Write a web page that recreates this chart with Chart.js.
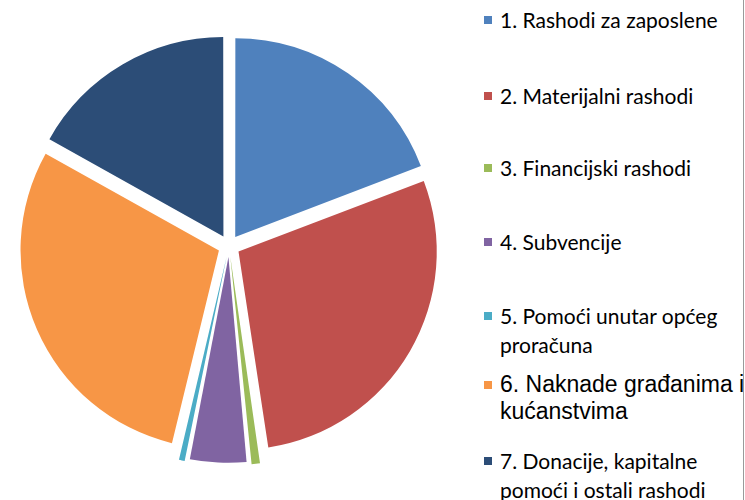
<!DOCTYPE html>
<html>
<head>
<meta charset="utf-8">
<script src="https://cdn.jsdelivr.net/npm/chart.js@4"></script>
<style>
  html, body { margin: 0; padding: 0; background: #fff; }
  #wrap { position: relative; width: 745px; height: 500px; overflow: hidden; }
  #wrap:after { content: ""; position: absolute; right: 1px; top: 0; width: 1px; height: 500px; background: #9a9a9a; }
  #pieBox { position: absolute; left: 0; top: 0; width: 460px; height: 500px; }
  .item { position: absolute; left: 484px; width: 259px; height: 70px; overflow: hidden; white-space: nowrap; color: #000; }
  .item .box { position: absolute; left: 0; width: 8px; height: 8px; }
  .item .txt { position: absolute; left: 16px; top: 0; font-family: Lato, sans-serif; font-size: 21px; line-height: 29px; }
</style>
</head>
<body>
<div id="wrap">
  <div id="pieBox"><canvas id="pie"></canvas></div>
  <div id="legend"></div>
</div>
<script>
const labels = [
  "1. Rashodi za zaposlene",
  "2. Materijalni rashodi",
  "3. Financijski rashodi",
  "4. Subvencije",
  "5. Pomoći unutar općeg proračuna",
  "6. Naknade građanima i kućanstvima",
  "7. Donacije, kapitalne pomoći i ostali rashodi"
];
const shares = [19.2, 28.4, 0.9, 4.6, 0.7, 29.3, 16.9];
const colors = ["#4F81BD", "#C0504D", "#9BBB59", "#8064A2", "#4BACC6", "#F79646", "#2C4D77"];

// legend layout (line breaks and vertical positions)
const breakAfter = [null, null, null, null, "općeg", "i", "kapitalne"];
const legendTop = [5, 81, 153, 227, 301, 370, 446];

const legend = document.getElementById("legend");
labels.forEach(function (lab, i) {
  var item = document.createElement("div");
  item.className = "item";
  item.style.top = legendTop[i] + "px";
  var box = document.createElement("div");
  box.className = "box";
  box.style.background = colors[i];
  box.style.top = "11px";
  var txt = document.createElement("div");
  txt.className = "txt";
  var text = lab;
  if (breakAfter[i]) {
    var k = lab.indexOf(" " + breakAfter[i] + " ") + breakAfter[i].length + 1;
    text = lab.slice(0, k) + "<br>" + lab.slice(k + 1);
  }
  txt.innerHTML = text;
  if (i == 5) {
    txt.style.fontFamily = "'Liberation Sans', Arial, sans-serif";
    txt.style.fontSize = "23px";
    txt.style.lineHeight = "27px";
    txt.style.top = "1px";
  }
  item.appendChild(box);
  item.appendChild(txt);
  legend.appendChild(item);
});

new Chart(document.getElementById("pie"), {
  type: "pie",
  data: {
    labels: labels,
    datasets: [{
      data: shares,
      backgroundColor: colors,
      borderWidth: 0,
      offset: 44
    }]
  },
  options: {
    responsive: true,
    maintainAspectRatio: false,
    animation: false,
    layout: { padding: { left: 9, right: 11, top: 26, bottom: 34 } },
    plugins: {
      legend: { display: false },
      tooltip: { enabled: false }
    }
  }
});
</script>
</body>
</html>
